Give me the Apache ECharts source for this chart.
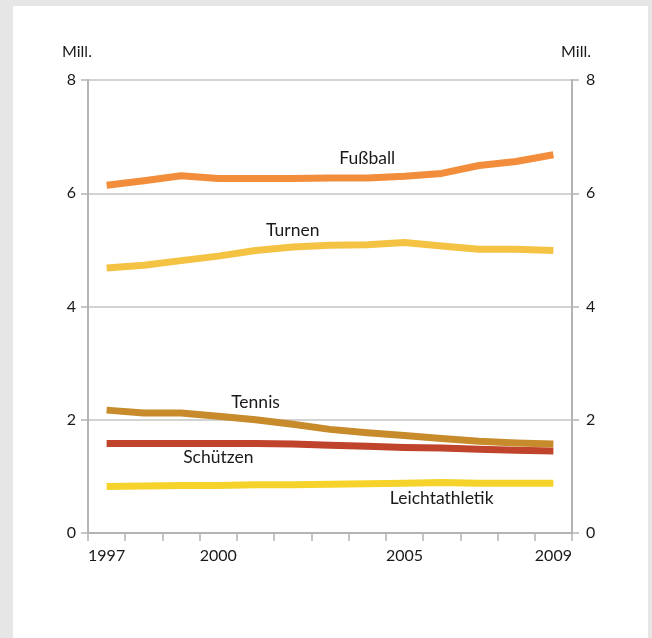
<!DOCTYPE html>
<html>
<head>
<meta charset="utf-8">
<script src="https://cdn.jsdelivr.net/npm/echarts@6/dist/echarts.min.js"></script>
<style>
  html, body { margin: 0; padding: 0; background: #e6e6e6; }
  #panel { position: absolute; left: 13px; top: 6px; width: 635px; height: 632px; background: #ffffff; }
  #chart { position: absolute; left: 0; top: 0; width: 652px; height: 638px; }
</style>
</head>
<body>
<div id="panel"></div>
<div id="chart"></div>
<script>
// Mitglieder der größten Sportverbände, in Millionen
const years = ['1997','1998','1999','2000','2001','2002','2003','2004','2005','2006','2007','2008','2009'];
const shownYears = ['1997','2000','2005','2009'];
const yTicks = [0, 2, 4, 6, 8];

const fussball       = [6.14, 6.22, 6.31, 6.26, 6.26, 6.26, 6.27, 6.27, 6.30, 6.35, 6.49, 6.56, 6.68];
const turnen         = [4.68, 4.73, 4.81, 4.89, 4.99, 5.05, 5.08, 5.09, 5.13, 5.07, 5.01, 5.01, 4.99];
const tennis         = [2.17, 2.12, 2.12, 2.06, 2.00, 1.92, 1.83, 1.77, 1.72, 1.67, 1.62, 1.59, 1.57];
const schuetzen      = [1.58, 1.58, 1.58, 1.58, 1.58, 1.57, 1.55, 1.53, 1.51, 1.50, 1.48, 1.46, 1.45];
const leichtathletik = [0.82, 0.83, 0.84, 0.84, 0.85, 0.85, 0.86, 0.87, 0.88, 0.89, 0.88, 0.88, 0.88];

const seriesNames  = ['Fußball', 'Turnen', 'Tennis', 'Schützen', 'Leichtathletik'];
const seriesData   = [fussball, turnen, tennis, schuetzen, leichtathletik];
const seriesColors = ['#f28d3b', '#f5c344', '#c88b2c', '#c0432b', '#f5d32a'];
// label anchors: [category index, value]
const labelAnchors = [[6.58, 6.61], [5.16, 5.34], [4.29, 2.30], [2.99, 1.34], [9.21, 0.62]];

const FONT = 'Lato, "Noto Sans", sans-serif';
const GREY = '#b4b4b4';

const chart = echarts.init(document.getElementById('chart'), null, { renderer: 'canvas' });

const yAxisBase = {
  type: 'value', min: yTicks[0], max: yTicks[yTicks.length - 1], interval: 2,
  axisLine: { show: true, lineStyle: { color: GREY, width: 2 } },
  axisTick: { show: true, length: 7, lineStyle: { color: GREY, width: 1.5 } },
  axisLabel: { color: '#1a1a1a', fontSize: 16, fontFamily: FONT, margin: 12 }
};

chart.setOption({
  animation: false,
  backgroundColor: 'transparent',
  grid: { left: 88, right: 80, top: 80, bottom: 105 },
  xAxis: {
    type: 'category', data: years, boundaryGap: true,
    axisLine: { lineStyle: { color: GREY, width: 2 } },
    axisTick: { show: true, length: 8, alignWithLabel: false, interval: 0, lineStyle: { color: GREY, width: 1.5 } },
    axisLabel: {
      color: '#1a1a1a', fontSize: 16, fontFamily: FONT, margin: 15,
      interval: (i, v) => shownYears.indexOf(v) >= 0
    },
    splitLine: { show: false }
  },
  yAxis: [
    Object.assign({}, yAxisBase, {
      position: 'left',
      splitLine: { show: true, lineStyle: { color: '#c4c4c4', width: 1.5 } }
    }),
    Object.assign({}, yAxisBase, {
      position: 'right',
      splitLine: { show: false },
      axisLabel: Object.assign({}, yAxisBase.axisLabel, { margin: 14 })
    })
  ],
  series: seriesData.map((d, i) => ({
    name: seriesNames[i], type: 'line', data: d, yAxisIndex: 0,
    symbol: 'none', smooth: false,
    lineStyle: { color: seriesColors[i], width: 7, cap: 'butt', join: 'round' },
    z: 10 - i
  }))
});

// Axis titles and series labels placed in data space
const texts = [
  { style: { text: 'Mill.', x: 62, y: 52, textAlign: 'left', textVerticalAlign: 'middle', fontSize: 16, fontFamily: FONT, fill: '#1a1a1a' } },
  { style: { text: 'Mill.', x: 591, y: 52, textAlign: 'right', textVerticalAlign: 'middle', fontSize: 16, fontFamily: FONT, fill: '#1a1a1a' } }
];
labelAnchors.forEach((a, i) => {
  const p = chart.convertToPixel({ xAxisIndex: 0, yAxisIndex: 0 }, a);
  texts.push({ style: { text: seriesNames[i], x: p[0], y: p[1], textAlign: 'center', textVerticalAlign: 'middle', fontSize: 17.5, fontFamily: FONT, fill: '#1a1a1a' } });
});
chart.setOption({ graphic: texts.map(t => Object.assign({ type: 'text', z: 100 }, t)) });
</script>
</body>
</html>
